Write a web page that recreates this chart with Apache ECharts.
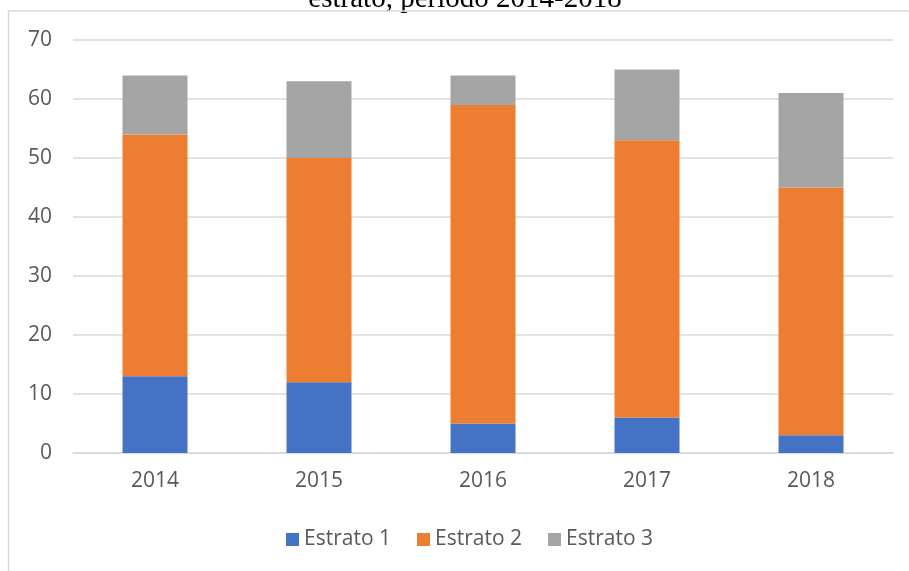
<!DOCTYPE html>
<html>
<head>
<meta charset="utf-8">
<script src="https://cdn.jsdelivr.net/npm/echarts@6/dist/echarts.min.js"></script>
<style>
html,body{margin:0;padding:0;background:#fff;}
#chart{width:909px;height:571px;}
</style>
</head>
<body>
<div id="chart"></div>
<script>
const titleText = 'estrato, periodo 2014-2018';
const categories = ['2014', '2015', '2016', '2017', '2018'];
const seriesNames = ['Estrato 1', 'Estrato 2', 'Estrato 3'];
const estrato1 = [13, 12, 5, 6, 3];
const estrato2 = [41, 38, 54, 47, 42];
const estrato3 = [10, 13, 5, 12, 16];
const yTicks = [0, 10, 20, 30, 40, 50, 60, 70];

const colors = ['#4472C4', '#ED7D31', '#A5A5A5'];
const font = 'Open Sans';
const chart = echarts.init(document.getElementById('chart'), null, {renderer: 'canvas'});

function barSeries(name, data, color) {
  return {
    name: name, type: 'bar', stack: 'total', data: data,
    barWidth: 65,
    itemStyle: {color: color},
    emphasis: {disabled: true}
  };
}

chart.setOption({
  animation: false,
  graphic: [
    {type: 'rect', shape: {x: 0, y: 11, width: 909, height: 560},
     style: {fill: '#fff'}, z: 0, silent: true},
    {type: 'polyline', shape: {points: [[8.5, 571], [8.5, 11], [909, 11]]},
     style: {stroke: '#D9D9D9', lineWidth: 1.5, fill: null}, z: 10},
    {type: 'text', x: 465, y: -15,
     style: {text: titleText, fill: '#000', font: '29px "Liberation Serif"', align: 'center', verticalAlign: 'top'}, z: 1}
  ],
  legend: {
    data: seriesNames,
    bottom: 16,
    left: 281,
    itemWidth: 13, itemHeight: 13, itemGap: 26,
    icon: 'rect',
    textStyle: {color: '#595959', fontSize: 21, fontFamily: font}
  },
  grid: {left: 73, right: 16, top: 40, bottom: 118, containLabel: false},
  xAxis: {
    type: 'category', data: categories,
    axisLine: {lineStyle: {color: '#D9D9D9', width: 1.5}},
    axisTick: {show: false},
    axisLabel: {color: '#595959', fontSize: 21, fontFamily: font, margin: 18}
  },
  yAxis: {
    type: 'value', min: yTicks[0], max: yTicks[yTicks.length - 1], interval: 10,
    axisLine: {show: false}, axisTick: {show: false},
    splitLine: {lineStyle: {color: '#D9D9D9', width: 1.5}},
    axisLabel: {color: '#595959', fontSize: 21, fontFamily: font, margin: 21}
  },
  series: [
    barSeries(seriesNames[0], estrato1, colors[0]),
    barSeries(seriesNames[1], estrato2, colors[1]),
    barSeries(seriesNames[2], estrato3, colors[2])
  ]
});
</script>
</body>
</html>
